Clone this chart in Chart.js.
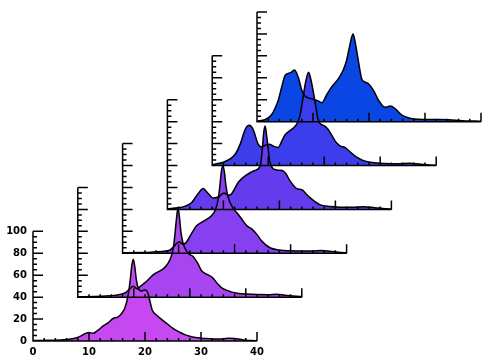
<!DOCTYPE html>
<html>
<head>
<meta charset="utf-8">
<script src="https://cdn.jsdelivr.net/npm/chart.js@4.4.1/dist/chart.umd.min.js"></script>
<style>
  html, body { margin: 0; padding: 0; background: #fff; }
  canvas { display: block; }
</style>
</head>
<body>
<canvas id="waterfall" width="497" height="360"></canvas>
<script>
// each panel: x positions and heights, in the panel's own units (x 0-40, y 0-100)
const p1X = [0, 3, 5, 6.5, 7.5, 8.5, 9.4, 10, 10.7, 11.5, 12.5, 13.5, 14.3, 15.2, 15.8, 16.4, 17, 17.35, 17.6, 17.9, 18.2, 18.45, 18.75, 19.3, 20, 20.5, 20.9, 21.3, 22, 23, 24, 25, 26, 27, 28, 29, 30, 31, 32, 33, 34, 35, 36, 37, 38, 39, 40];
const p1Y = [0.4, 0.6, 1, 1.5, 2.5, 4.5, 7, 7.8, 7, 9.5, 13.5, 17, 20.5, 22, 25, 30, 42, 55, 67, 74.5, 67, 56, 49, 45.5, 46.5, 44, 36, 28, 24, 19.5, 15.5, 11.5, 8.5, 6, 4.3, 3.2, 2.6, 2.2, 1.9, 1.8, 2, 2.4, 2.3, 1.5, 0.8, 0.4, 0.3];

const p2X = [0, 3, 5, 6.5, 7.5, 8.5, 9.3, 9.9, 10.6, 11.1, 11.7, 12.3, 13.5, 14.5, 15.3, 16, 16.6, 17.1, 17.4, 17.65, 17.9, 18.15, 18.4, 18.8, 19.7, 20.6, 21.5, 22.1, 23, 24, 25, 25.7, 27, 28, 30, 32, 34, 35.5, 37, 39, 40];
const p2Y = [0.3, 0.6, 1, 1.6, 2.4, 4, 7.5, 10, 7.5, 9.5, 12, 14.5, 20.5, 23.5, 26, 30, 36, 46, 60, 73, 81, 73, 60, 49, 40, 37, 30, 24, 21, 18, 12, 8.5, 5.5, 4, 2.8, 2.3, 2.2, 2.6, 1.8, 0.8, 0.5];

const p3X = [0, 3, 5, 7, 8.5, 9.3, 10.1, 10.7, 11.3, 12.3, 13.2, 14.7, 15.9, 16.6, 17.1, 17.4, 17.65, 17.9, 18.15, 18.45, 18.8, 19.6, 20.4, 21.3, 22.2, 23.1, 24, 24.8, 26.3, 28, 30, 32, 34, 35.5, 37, 39, 40];
const p3Y = [0.4, 0.7, 1, 1.6, 3, 7, 10.5, 8.5, 9.5, 18, 25, 30, 34.5, 40, 50, 63, 75, 80, 75, 62, 52, 42, 37, 31, 25, 22, 17, 11.5, 5, 3, 2.3, 2, 2.1, 2.5, 1.8, 0.7, 0.4];

const p4X = [0, 1.9, 3.2, 4.3, 5.5, 6.4, 7.2, 8.2, 9.2, 10.1, 10.8, 11.3, 12.7, 14, 15.6, 16.6, 16.95, 17.2, 17.45, 17.7, 18, 18.3, 19.5, 20.5, 21.1, 21.9, 23.1, 24, 24.7, 25.5, 27.2, 29, 31, 33, 35, 37, 39, 40];
const p4Y = [0.5, 1.4, 3, 6, 14.5, 19, 15, 10.5, 11.5, 15, 13, 13.5, 25, 31, 35.5, 40, 55, 70, 76, 68, 55, 43, 36, 35.5, 33, 26, 19, 18, 14.5, 10.5, 4.4, 2.6, 2, 1.9, 2.5, 1.6, 0.6, 0.4];

const p5X = [0, 0.8, 2, 3.2, 4.2, 5, 5.9, 6.6, 7.3, 8.2, 8.8, 9.5, 10.2, 11, 11.8, 12.4, 13, 14.2, 15, 15.6, 16.1, 16.6, 16.95, 17.2, 17.5, 17.9, 18.4, 18.9, 19.5, 20.1, 20.6, 21.3, 22, 22.8, 23.7, 24.5, 25.8, 27, 28.2, 30, 33, 35.3, 37, 38.8, 40];
const p5Y = [0.5, 1.6, 3, 6, 11, 19.5, 33, 36.7, 33, 19.5, 17, 18.5, 19.5, 17.5, 16.5, 22, 28, 33, 37, 44, 58, 74, 82, 85, 81, 71.5, 57, 42, 37.5, 36, 33.5, 28, 22, 18, 16.5, 13, 7.6, 4.5, 3, 2, 1.6, 2, 1.3, 0.5, 0.3];

const p6X = [0, 1.4, 2.6, 3.2, 3.8, 4.4, 5, 5.6, 6.1, 6.7, 7.4, 8, 8.6, 9.3, 10.1, 10.9, 11.6, 12.4, 13.3, 14.5, 15.4, 16, 16.6, 16.9, 17.15, 17.5, 18.1, 18.7, 19.3, 19.9, 20.8, 21.7, 22.9, 23.8, 24.6, 25.8, 27, 28.2, 30, 32, 34.2, 36.6, 39, 40];
const p6Y = [0.6, 1.8, 6.3, 12, 19.6, 31.5, 42, 44, 45, 47, 40, 28.6, 23.2, 21.5, 20.2, 19, 17.3, 24.1, 31.5, 39, 47, 56, 70.3, 77, 80, 73.2, 55.4, 39, 36, 34.6, 28.6, 19.6, 13.1, 14.3, 12.2, 6.3, 3.5, 2.4, 2, 1.9, 1.8, 0.9, 0.5, 0.3];

const panelColors = ['rgb(198,72,240)', 'rgb(168,68,240)', 'rgb(135,64,240)', 'rgb(100,60,238)', 'rgb(60,62,235)', 'rgb(10,70,228)'];

const xTicks = [0, 10, 20, 30, 40];
const yTicks = [0, 20, 40, 60, 80, 100];

// every panel sits this far up and right of the one in front of it
const shiftX = 8;
const shiftY = 40;
const panelWidth = 40;
const panelHeight = 100;

const panels = [[p1X, p1Y], [p2X, p2Y], [p3X, p3Y], [p4X, p4Y], [p5X, p5Y], [p6X, p6Y]];

const datasets = [];
panels.forEach(([xs, ys], k) => {
  const pts = xs.map((x, i) => ({ x: x + k * shiftX, y: ys[i] + k * shiftY }));
  // filled area, back panels drawn first
  datasets.push({
    data: pts,
    fill: { value: k * shiftY },
    backgroundColor: panelColors[k],
    borderColor: 'rgba(0,0,0,0)',
    borderWidth: 0,
    pointRadius: 0,
    cubicInterpolationMode: 'monotone',
    order: k + 1
  });
  // black outline on top of all fills
  datasets.push({
    data: pts,
    fill: false,
    borderColor: '#000',
    borderWidth: 1.5,
    pointRadius: 0,
    cubicInterpolationMode: 'monotone',
    order: 0
  });
});

const panelAxes = {
  id: 'panelAxes',
  afterDatasetsDraw(chart) {
    const { ctx, scales: { x, y } } = chart;
    ctx.save();
    ctx.strokeStyle = '#000';
    ctx.lineWidth = 1.5;
    for (let k = panels.length - 1; k >= 0; k--) {
      const x0 = k * shiftX;
      const y0 = k * shiftY;
      const left = x.getPixelForValue(x0);
      const right = x.getPixelForValue(x0 + panelWidth);
      const base = y.getPixelForValue(y0);
      const top = y.getPixelForValue(y0 + panelHeight);
      ctx.beginPath();
      ctx.moveTo(left, top);
      ctx.lineTo(left, base);
      ctx.lineTo(right, base);
      for (let v = 2; v <= panelWidth; v += 2) {
        const len = v % 10 === 0 ? 9 : 3;
        const px = x.getPixelForValue(x0 + v);
        ctx.moveTo(px, base);
        ctx.lineTo(px, base - len);
      }
      for (let v = 5; v <= panelHeight; v += 5) {
        const len = v % 20 === 0 ? 10 : 4;
        const py = y.getPixelForValue(y0 + v);
        ctx.moveTo(left, py);
        ctx.lineTo(left + len, py);
      }
      ctx.stroke();
    }
    ctx.restore();
  }
};

const tickFont = { family: 'DejaVu Sans', size: 10, weight: 'bold' };

new Chart(document.getElementById('waterfall'), {
  type: 'line',
  data: { datasets },
  options: {
    responsive: false,
    animation: false,
    devicePixelRatio: 1,
    layout: { padding: { top: 5, right: 16, bottom: 0, left: 0 }, autoPadding: false },
    plugins: {
      legend: { display: false },
      tooltip: { enabled: false }
    },
    scales: {
      x: {
        type: 'linear',
        min: 0,
        max: panelWidth + (panels.length - 1) * shiftX,
        grid: { display: false, drawTicks: false },
        border: { display: false },
        afterBuildTicks: s => { s.ticks = xTicks.map(v => ({ value: v })); },
        afterFit: s => { s.height = 19; },
        ticks: { padding: 5, color: '#000', font: tickFont, maxRotation: 0, autoSkip: false }
      },
      y: {
        type: 'linear',
        min: 0,
        max: panelHeight + (panels.length - 1) * shiftY,
        grid: { display: false, drawTicks: false },
        border: { display: false },
        afterBuildTicks: s => { s.ticks = yTicks.map(v => ({ value: v })); },
        afterFit: s => { s.width = 33; },
        ticks: { padding: 6, color: '#000', font: tickFont, autoSkip: false }
      }
    }
  },
  plugins: [panelAxes]
});
</script>
</body>
</html>
